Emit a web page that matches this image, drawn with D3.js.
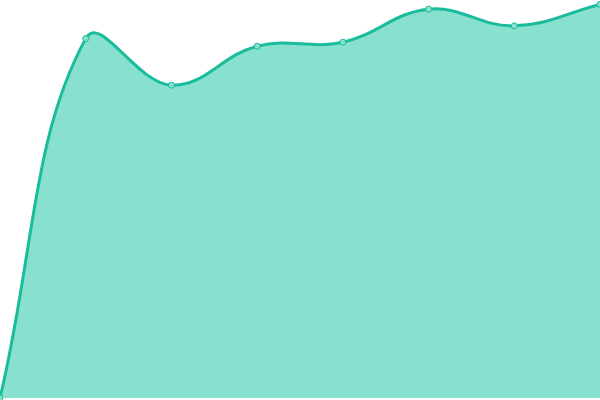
<!DOCTYPE html>
<html>
<head>
<meta charset="utf-8">
<script src="https://cdn.jsdelivr.net/npm/d3@7"></script>
<style>
  html, body { margin: 0; padding: 0; background: #fff; }
  svg { display: block; }
</style>
</head>
<body>
<div class="chart"></div>
<script>
var width = 600;
var height = 400;

// values (0..100 scale)
var labels = ['1', '2', '3', '4', '5', '6', '7', '8'];
var values = [0, 90.3, 78.6, 88.4, 89.4, 97.7, 93.5, 98.9];

var svg = d3.select('.chart').append('svg').attr('width', width).attr('height', height);

var x = d3.scalePoint().domain(labels).range([0, width]);
var y = d3.scaleLinear().domain([0, 100]).range([398, 0]);

var pts = labels.map(function(l, i) { return [x(l), y(values[i])]; });

// spline like chart.js (tension 0.4)
function splinePath(p, closeBottom) {
  var t = 0.4;
  var cps = p.map(function(cur, i) {
    var prev = p[i - 1] || cur, next = p[i + 1] || cur;
    var d01 = Math.hypot(cur[0] - prev[0], cur[1] - prev[1]);
    var d12 = Math.hypot(next[0] - cur[0], next[1] - cur[1]);
    var fa = d01 / (d01 + d12 || 1), fb = d12 / (d01 + d12 || 1);
    fa = isNaN(fa) ? 0 : fa * t; fb = isNaN(fb) ? 0 : fb * t;
    return {
      prev: [cur[0] - fa * (next[0] - prev[0]), cur[1] - fa * (next[1] - prev[1])],
      next: [cur[0] + fb * (next[0] - prev[0]), cur[1] + fb * (next[1] - prev[1])]
    };
  });
  var path = d3.path();
  path.moveTo(p[0][0], p[0][1]);
  for (var i = 1; i < p.length; i++) {
    path.bezierCurveTo(cps[i - 1].next[0], cps[i - 1].next[1], cps[i].prev[0], cps[i].prev[1], p[i][0], p[i][1]);
  }
  if (closeBottom) {
    path.lineTo(p[p.length - 1][0], y(0));
    path.lineTo(p[0][0], y(0));
    path.closePath();
  }
  return path.toString();
}

svg.append('path')
  .attr('d', splinePath(pts, true))
  .attr('fill', '#88e0cf');

svg.append('path')
  .attr('d', splinePath(pts, false))
  .attr('fill', 'none')
  .attr('stroke', '#1abc9c')
  .attr('stroke-width', 3);

svg.selectAll('circle')
  .data(values).enter()
  .append('circle')
  .attr('cx', function(d, i) { return x(labels[i]); })
  .attr('cy', function(d) { return y(d); })
  .attr('r', 3)
  .attr('fill', '#88e0cf')
  .attr('stroke', '#1abc9c')
  .attr('stroke-width', 1);
</script>
</body>
</html>
